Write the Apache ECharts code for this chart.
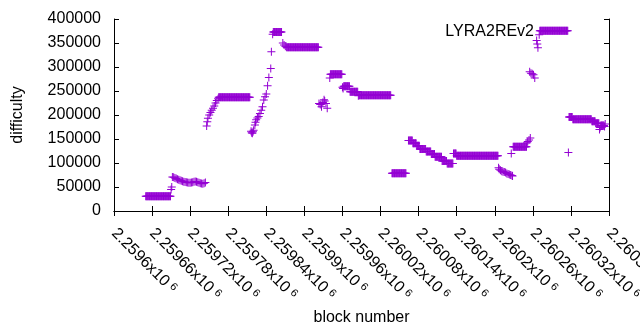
<!DOCTYPE html>
<html>
<head>
<meta charset="utf-8">
<script src="https://cdn.jsdelivr.net/npm/echarts@6/dist/echarts.min.js"></script>
<style>
  html, body { margin: 0; padding: 0; background: #fff; }
  #chart { width: 640px; height: 330px; }
</style>
</head>
<body>
<div id="chart"></div>
<script>
  // stretches where the difficulty stays the same for a run of blocks
  const runStart = [2259650, 2259765, 2259851, 2259872, 2259941, 2259962, 2259972, 2259986, 2260038,
    2260064, 2260071, 2260077, 2260082, 2260092, 2260100, 2260106, 2260117, 2260125, 2260135, 2260140,
    2260229, 2260271, 2260317, 2260323, 2260353, 2260359, 2260367];
  const runEnd = [2259689, 2259814, 2259864, 2259922, 2259959, 2259971, 2259984, 2260036, 2260060,
    2260070, 2260076, 2260081, 2260091, 2260099, 2260105, 2260116, 2260124, 2260134, 2260139, 2260205,
    2260250, 2260315, 2260322, 2260352, 2260358, 2260364, 2260372];
  const runValue = [30500, 237000, 373000, 341000, 285000, 260000, 248500, 241000, 78500,
    147000, 141000, 136000, 129000, 124000, 119000, 113000, 104000, 99000, 120000, 115000,
    134000, 375500, 196000, 191000, 187000, 183000, 178000];

  // single blocks (ramps, jumps, stray points)
  const pointBlock = [2259690, 2259691, 2259692, 2259694, 2259696, 2259698, 2259700, 2259702, 2259704,
    2259706, 2259708, 2259710, 2259712, 2259714, 2259716, 2259718, 2259720, 2259722, 2259724, 2259726,
    2259728, 2259730, 2259732, 2259734, 2259736, 2259738, 2259740, 2259742, 2259744,
    2259746, 2259747, 2259748, 2259750, 2259752, 2259754, 2259756, 2259758, 2259760, 2259762, 2259764,
    2259816, 2259817, 2259818, 2259819, 2259820, 2259822, 2259823, 2259824, 2259826, 2259828, 2259830,
    2259832, 2259834, 2259836, 2259838, 2259840, 2259842, 2259844, 2259847, 2259848, 2259850,
    2259866, 2259868, 2259870,
    2259923, 2259925, 2259927, 2259929, 2259931, 2259932, 2259934, 2259936, 2259940, 2259960, 2259961, 2259985,
    2260206, 2260207, 2260209, 2260211, 2260213, 2260215, 2260217, 2260219, 2260221, 2260223, 2260225,
    2260226, 2260227, 2260228,
    2260251, 2260252, 2260254, 2260256, 2260255, 2260257, 2260259, 2260261, 2260263,
    2260266, 2260267, 2260268, 2260270, 2260316, 2260365, 2260366, 2260373, 2260374];
  const pointValue = [45000, 50000, 71000, 70500, 69000, 67500, 66000, 65000, 64000,
    63000, 62000, 61000, 60500, 60000, 59500, 59000, 59000, 59500, 60000, 61000,
    61500, 61000, 60000, 59000, 58000, 57500, 57000, 58000, 59500,
    177000, 186000, 193000, 200000, 205000, 210000, 214000, 219000, 225000, 230000, 234000,
    166000, 163000, 162000, 165000, 168000, 179000, 185000, 190000, 194000, 197000, 203000,
    210000, 217000, 231000, 238000, 244000, 261000, 278000, 297000, 332000, 368000,
    350000, 346000, 343000,
    224000, 222000, 217000, 226000, 232000, 229000, 224000, 214000, 277000, 258000, 255000, 240000,
    90000, 87000, 85000, 83000, 82000, 81000, 80000, 78000, 77000, 76000, 75000,
    120000, 74000, 73000,
    142000, 145000, 148000, 152000, 290000, 287000, 286000, 284000, 277000,
    355000, 348000, 340000, 367000, 122000, 170000, 174000, 176000, 181000];

  const xMin = 2259600, xMax = 2260380, xStep = 60;
  const yMin = 0, yMax = 400000, yStep = 50000;

  let points = [];
  runStart.forEach((s, i) => {
    for (let b = s; b <= runEnd[i]; b++) points.push([b, runValue[i]]);
  });
  pointBlock.forEach((b, i) => points.push([b, pointValue[i]]));

  const font = 'Liberation Sans';
  const black = '#000';
  const plus = 'path://M0,3.5H8V4.5H0Z M3.5,0H4.5V8H3.5Z';

  function blockLabel(v) {
    let s = parseFloat((v / 1e6).toFixed(5)).toString();
    return '{a|' + s + 'x10}{b|6}';
  }

  const boxAxis = {
    axisLine: { show: true, lineStyle: { color: black, width: 1 } },
    axisTick: { show: true, inside: true, length: 5, lineStyle: { color: black } },
    splitLine: { show: false }
  };

  let chart = echarts.init(document.getElementById('chart'));
  chart.setOption({
    animation: false,
    backgroundColor: '#fff',
    textStyle: { fontFamily: font },
    grid: { left: 114, right: 31, top: 19, bottom: 119, containLabel: false, outerBoundsMode: 'none' },
    legend: {
      data: ['LYRA2REv2'],
      icon: 'none',
      itemWidth: 0,
      right: 106,
      top: 24,
      padding: 0,
      textStyle: { fontFamily: font, fontSize: 16, color: black }
    },
    xAxis: [
      Object.assign({
        type: 'value', min: xMin, max: xMax, interval: xStep, position: 'bottom',
        name: 'block number', nameLocation: 'middle', nameGap: 98,
        nameTextStyle: { fontFamily: font, fontSize: 16, color: black },
        axisLabel: {
          rotate: -45, margin: 20, formatter: blockLabel,
          rich: {
            a: { fontFamily: font, fontSize: 16, color: black },
            b: { fontFamily: font, fontSize: 11, color: black, padding: [0, 0, 0, 4], verticalAlign: 'top' }
          }
        }
      }, boxAxis),
      Object.assign({
        type: 'value', min: xMin, max: xMax, interval: xStep, position: 'top',
        axisLabel: { show: false }
      }, boxAxis)
    ],
    yAxis: [
      Object.assign({
        type: 'value', min: yMin, max: yMax, interval: yStep, position: 'left',
        name: 'difficulty', nameLocation: 'middle', nameGap: 88, nameRotate: 90,
        nameTextStyle: { fontFamily: font, fontSize: 16, color: black },
        axisLabel: { margin: 13, fontFamily: font, fontSize: 16, color: black, formatter: v => String(v) }
      }, boxAxis),
      Object.assign({
        type: 'value', min: yMin, max: yMax, interval: yStep, position: 'right',
        axisLabel: { show: false }
      }, boxAxis)
    ],
    series: [{
      name: 'LYRA2REv2',
      type: 'scatter',
      data: points,
      symbol: plus,
      symbolSize: 8,
      itemStyle: { color: '#9400d3', opacity: 1 }
    }]
  });
</script>
</body>
</html>
